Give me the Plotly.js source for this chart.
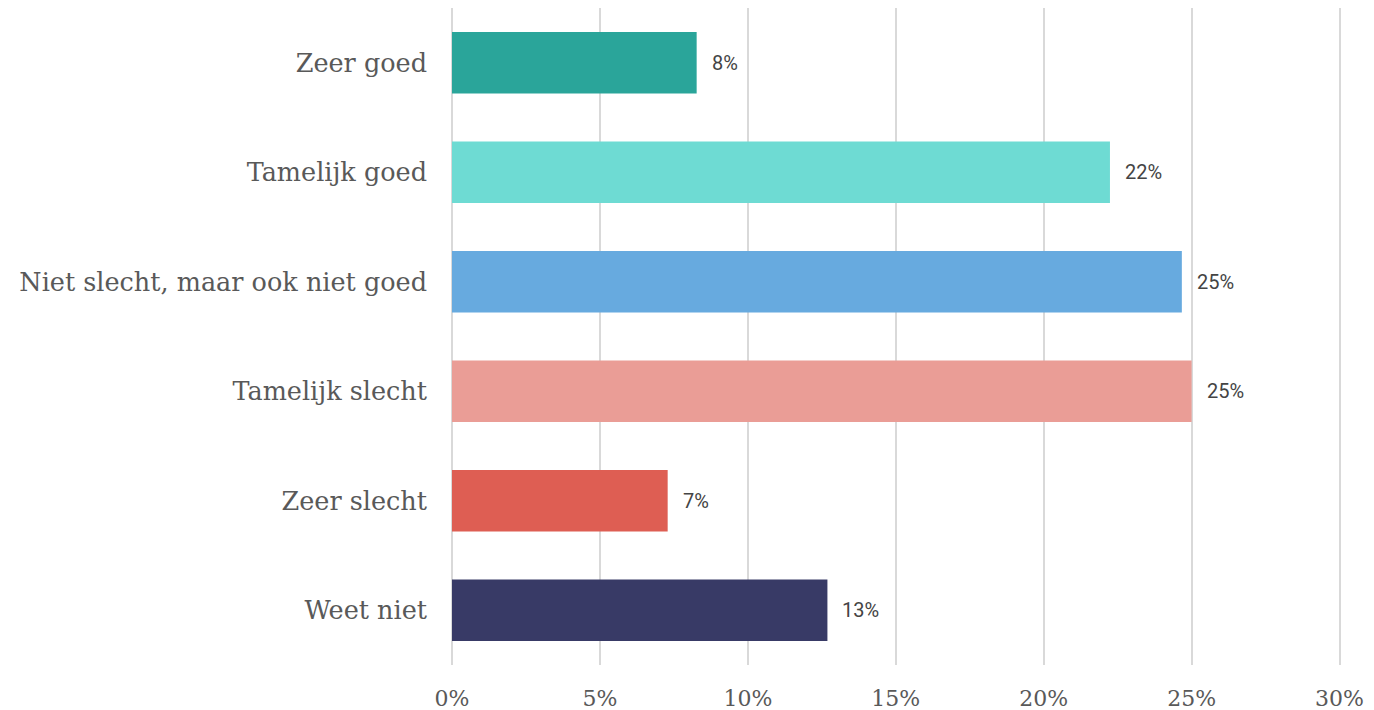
<!DOCTYPE html>
<html>
<head>
<meta charset="utf-8">
<script src="https://cdn.plot.ly/plotly-3.0.1.min.js"></script>
<style>html,body{margin:0;padding:0;background:#fff;}#chart{width:1374px;height:710px;}</style>
</head>
<body>
<div id="chart"></div>
<script>
var categories = ["Zeer goed", "Tamelijk goed", "Niet slecht, maar ook niet goed", "Tamelijk slecht", "Zeer slecht", "Weet niet"];
var values = [8.27, 22.24, 24.67, 25.0, 7.29, 12.69];
var labels = ["8%", "22%", "25%", "25%", "7%", "13%"];
var colors = ["#2AA59A", "#6EDBD3", "#67AADF", "#EA9D96", "#DE5E53", "#383A66"];
var tickVals = [0, 5, 10, 15, 20, 25, 30];
var tickText = ["0%", "5%", "10%", "15%", "20%", "25%", "30%"];

var trace = {
  type: "bar",
  orientation: "h",
  x: values,
  y: categories,
  marker: {color: colors},
  hoverinfo: "none"
};

var annotations = categories.map(function (c, i) {
  return {
    x: values[i], y: c, xref: "x", yref: "y",
    text: labels[i], showarrow: false,
    xanchor: "left", xshift: 13,
    font: {family: "Roboto, sans-serif", size: 20, color: "#444444"}
  };
});

var layout = {
  width: 1374, height: 710,
  margin: {l: 452, r: 33, t: 8, b: 45},
  paper_bgcolor: "#ffffff", plot_bgcolor: "#ffffff",
  bargap: 0.44,
  showlegend: false,
  xaxis: {
    range: [0, 30.05],
    tickvals: tickVals, ticktext: tickText,
    showgrid: true, gridcolor: "#d9d9d9", gridwidth: 2,
    zeroline: true, zerolinecolor: "#d9d9d9", zerolinewidth: 2,
    showline: false,
    ticks: "", ticklabelstandoff: 18,
    tickfont: {family: "DejaVu Serif, serif", size: 22, color: "#595959"},
    fixedrange: true
  },
  yaxis: {
    autorange: "reversed",
    categoryorder: "array", categoryarray: categories,
    showgrid: false, zeroline: false, showline: false,
    ticks: "", ticklabelstandoff: 24,
    tickfont: {family: "DejaVu Serif, serif", size: 25.5, color: "#595959"},
    fixedrange: true
  },
  annotations: annotations
};

Plotly.newPlot("chart", [trace], layout, {displayModeBar: false, staticPlot: true});
</script>
</body>
</html>
